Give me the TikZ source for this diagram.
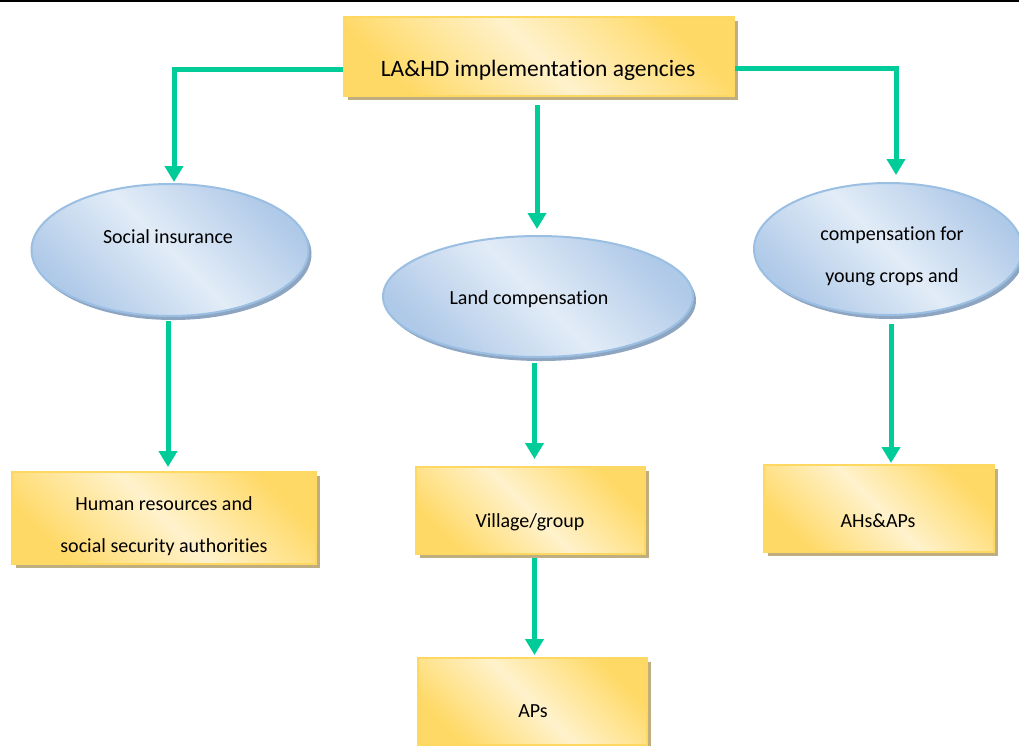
\documentclass[tikz,border=0pt]{standalone}
\usepackage{fontspec}
\setmainfont{Carlito}[RawFeature={-liga;-calt;-clig;-dlig;-rlig}]
\usetikzlibrary{arrows.meta,shadows,calc,shapes.geometric}
\definecolor{ydark}{HTML}{FFD966}
\definecolor{ylight}{HTML}{FFF2CC}
\definecolor{yborder}{HTML}{FFD862}
\definecolor{yshadow}{HTML}{BFAE80}
\definecolor{bdark}{HTML}{AFC9E8}
\definecolor{blight}{HTML}{E2ECF7}
\definecolor{bborder}{HTML}{9BBFE3}
\definecolor{bshadow}{HTML}{8EA5C2}
\definecolor{arrgreen}{RGB}{0,204,153}
\tikzset{
  ybox/.style={draw=yborder, line width=2pt, top color=ydark, bottom color=ydark,
    middle color=ylight, shading angle=-45, inner sep=0pt,
    drop shadow={shadow xshift=4pt, shadow yshift=-4pt, fill=yshadow, opacity=1}},
  bell/.style={ellipse, draw=bborder, line width=2pt, top color=bdark, bottom color=bdark,
    middle color=blight, shading angle=-45, inner sep=0pt,
    drop shadow={shadow xshift=3pt, shadow yshift=-4pt, fill=bshadow, opacity=1}},
  txt/.style={font=\fontsize{20}{42}\selectfont, align=center, inner sep=0pt},
  bigtxt/.style={font=\fontsize{23.5}{28}\selectfont, inner sep=0pt},
  arr/.style={draw=arrgreen, line width=5pt, -{Triangle[width=18pt,length=16pt]}}
}
\begin{document}
\begin{tikzpicture}[x=1pt,y=1pt]
\useasboundingbox (0,0) rectangle (1019,-745);
\draw[line width=1.5pt] (0,-0.75) -- (1019,-0.75);
% nodes
\node[ybox, minimum width=390, minimum height=79] (top) at (539,-56.5) {};
\node[bigtxt] (topT) at (538,-70) {LA\&HD implementation agencies};

\node[bell, minimum width=277, minimum height=132] (socl) at (170,-250) {};
\node[txt] (soclT) at (168,-237) {Social insurance};

\node[bell, minimum width=310, minimum height=121] (socm) at (538,-296.5) {};
\node[txt] (socmT) at (529,-299) {Land compensation};

\node[bell, minimum width=268, minimum height=132] (socr) at (888,-249) {};
\node[txt] (socrT) at (892,-256) {compensation for\\young crops and};

\node[ybox, minimum width=304, minimum height=92] (hr) at (164,-518) {};
\node[txt] (hrT) at (164,-526) {Human resources and\\social security authorities};

\node[ybox, minimum width=229, minimum height=87] (vil) at (530.5,-510.5) {};
\node[txt] (vilT) at (530,-522) {Village/group};

\node[ybox, minimum width=229, minimum height=87] (aps) at (532,-701.5) {};
\node[txt] (apsT) at (533,-711) {APs};

\node[ybox, minimum width=230, minimum height=87] (ahs) at (879,-508.5) {};
\node[txt] (ahsT) at (878,-521) {AHs\&APs};
% connectors
\draw[arr] ($(top.west)+(0,-12.5)$) -| ($(socl.north)+(4,1)$);
\draw[arr] ($(top.east)+(0,-11.5)$) -| ($(socr.north)+(8,7)$);
\draw[arr] ($(top.south)+(-2,-8)$) -- ($(socm.north)+(-1,6)$);
\draw[arr] ($(socl.south)+(-2,-4)$) -- ($(hr.north)+(4,4)$);
\draw[arr] ($(socm.south)+(-3.5,-5)$) -- ($(vil.north)+(4,7)$);
\draw[arr] ($(vil.south)+(4,-3)$) -- ($(aps.north)+(2.5,2)$);
\draw[arr] ($(socr.south)+(3,-8)$) -- ($(ahs.north)+(12,1)$);
\end{tikzpicture}
\end{document}
